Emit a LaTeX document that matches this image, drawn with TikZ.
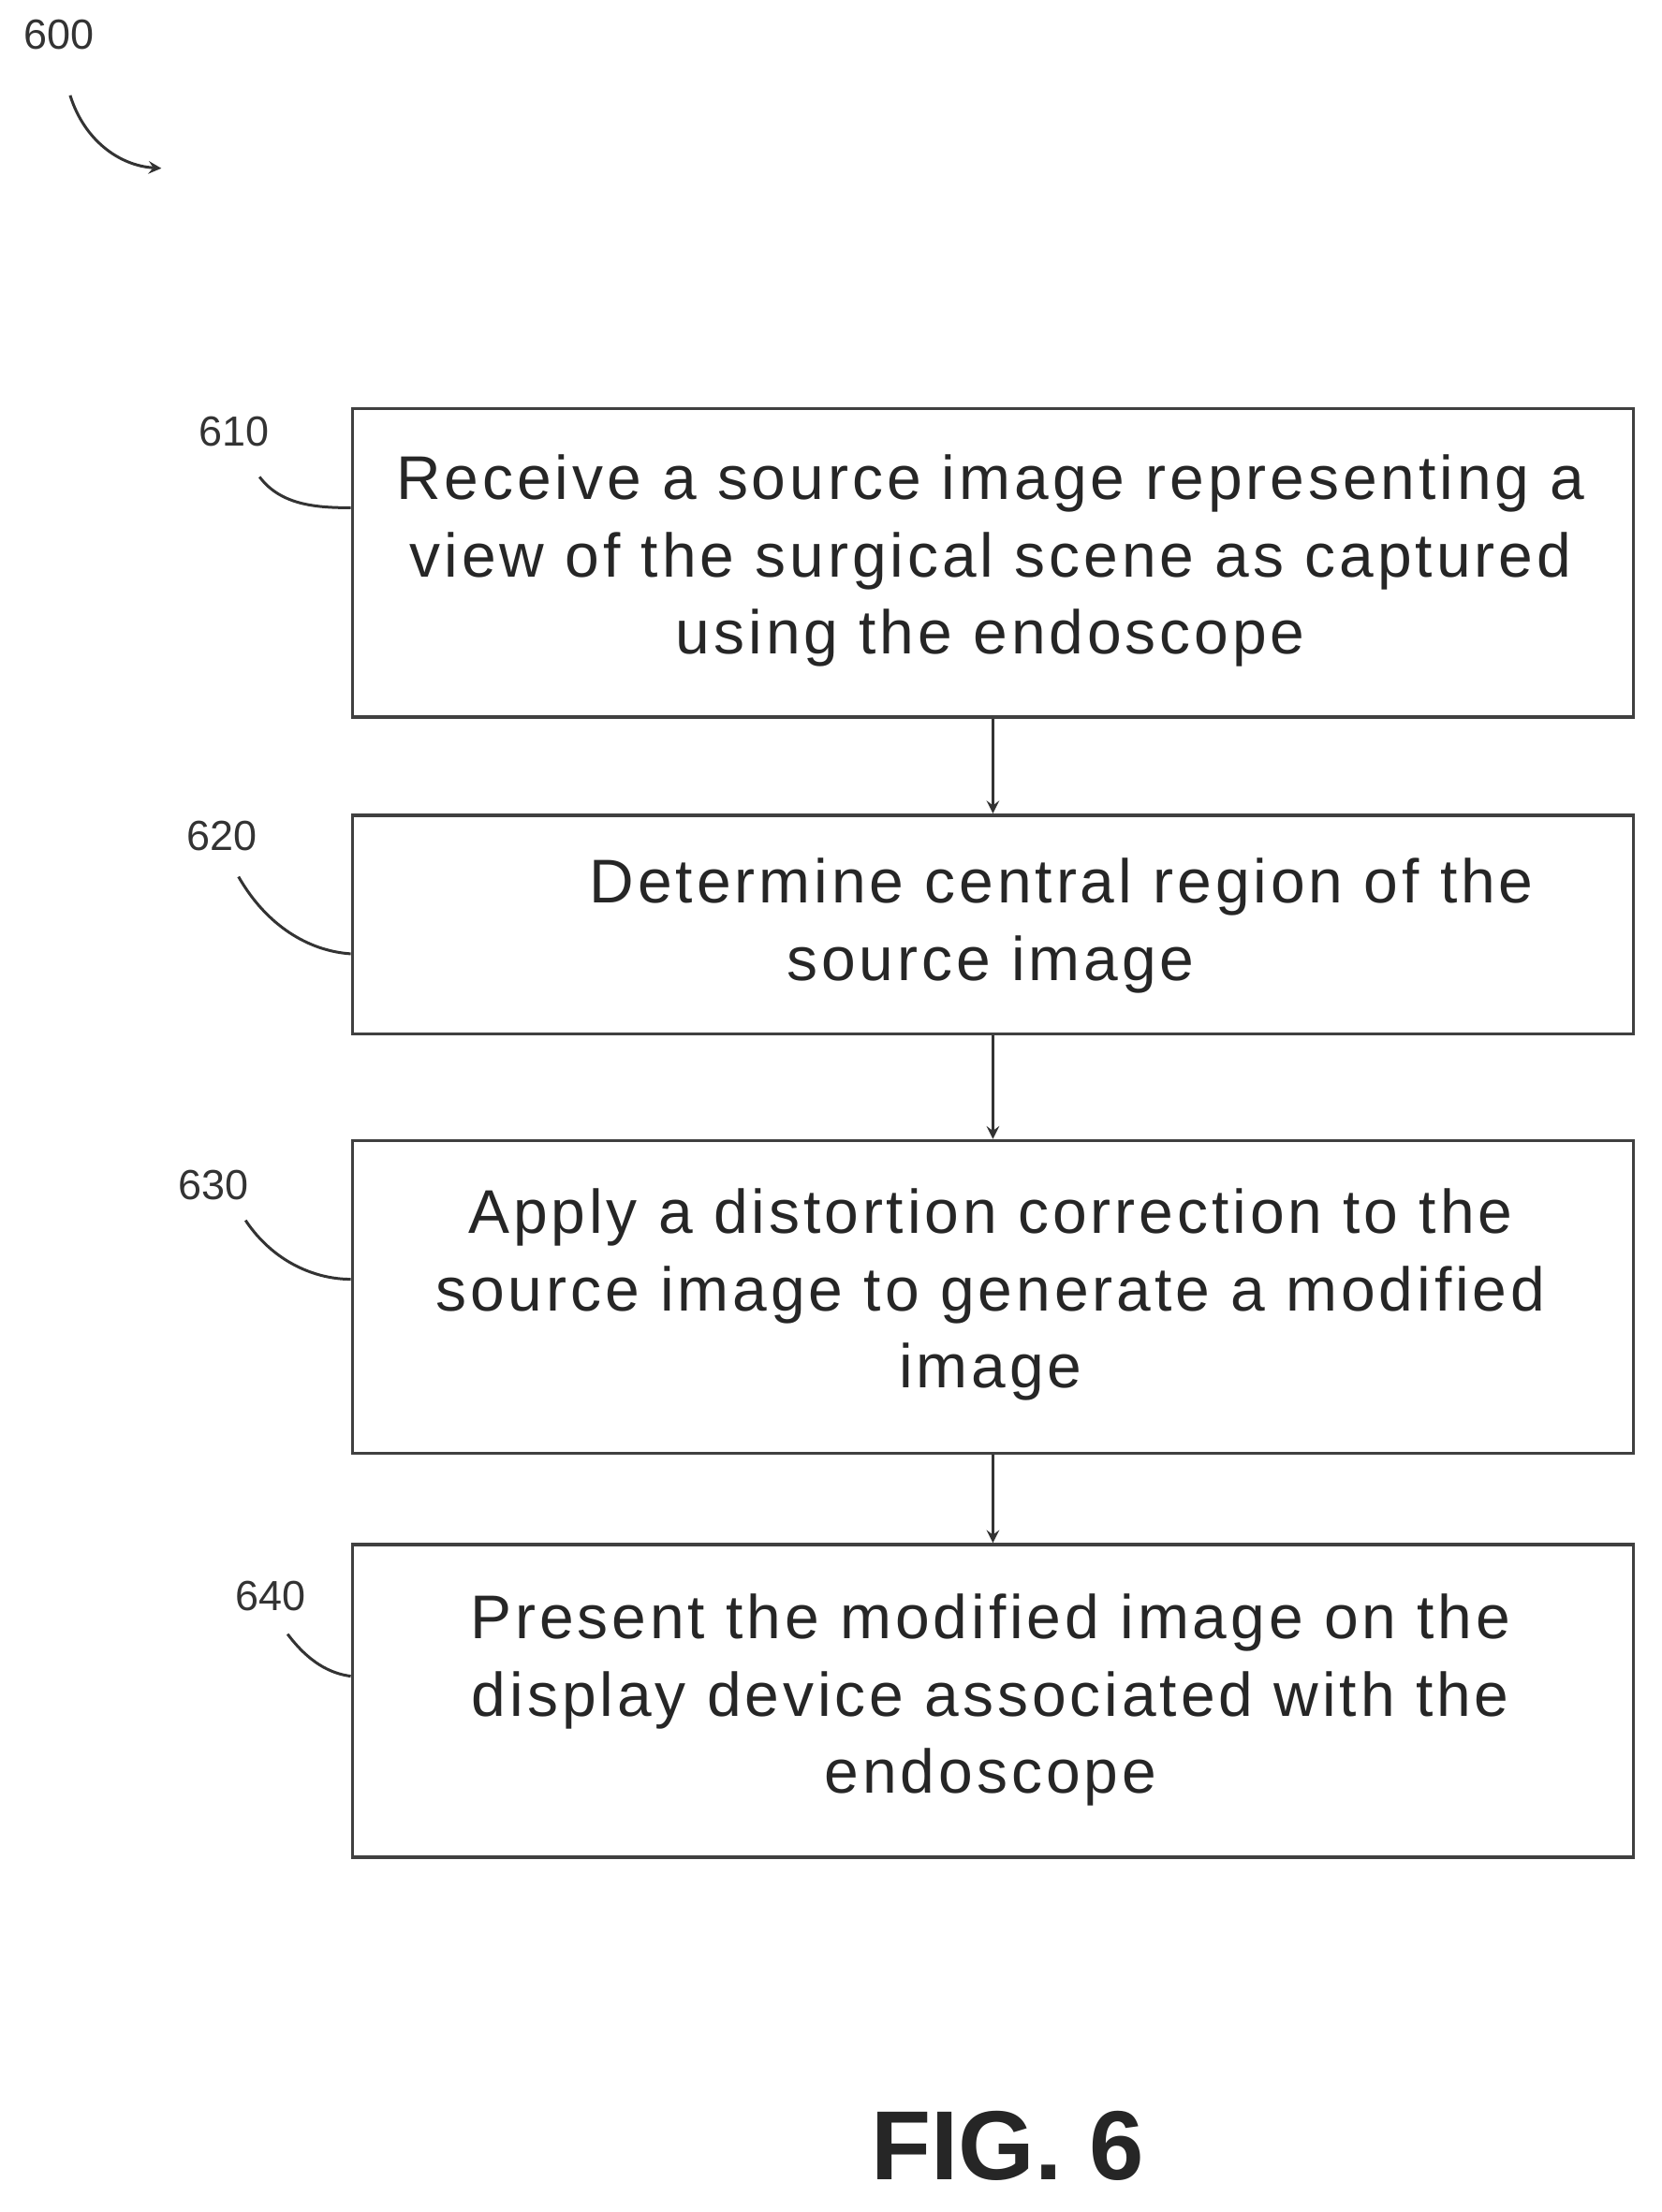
\documentclass[tikz,border=0pt]{standalone}
\usepackage{fontspec}
\setmainfont{Liberation Sans}
\newfontfamily\wide[LetterSpace=6]{Liberation Sans}
\begin{document}
\begin{tikzpicture}[x=0.5pt,y=-0.5pt,
 box/.style={draw=black!75,line width=1.2pt,inner sep=0pt},
 txt/.style={align=center,font=\wide\fontsize{22}{27.5}\selectfont,text=black!85},
 lab/.style={font=\fontsize{15}{18}\selectfont,text=black!80},
 lead/.style={draw=black!80,line width=1pt},
 arr/.style={draw=black!80,line width=1pt,->,>=stealth}]
\useasboundingbox (0,0) rectangle (1184,1577);
\node[box,minimum width=456.5pt,minimum height=110pt,anchor=north west] (b1) at (250,290) {};
\node[box,minimum width=456.5pt,minimum height=78pt,anchor=north west] (b2) at (250,580) {};
\node[box,minimum width=456.5pt,minimum height=111.5pt,anchor=north west] (b3) at (250,812) {};
\node[box,minimum width=456.5pt,minimum height=111.5pt,anchor=north west] (b4) at (250,1100) {};
\node[txt] (t1) at (706,400) {Receive a source image representing a\\view of the surgical scene as captured\\using the endoscope};
\node[txt] (t2) at (706,660) {\hspace*{2.3em}Determine central region of the\\source image};
\node[txt] (t3) at (706,923) {Apply a distortion correction to the\\source image to generate a modified\\image};
\node[txt] (t4) at (706,1212) {Present the modified image on the\\display device associated with the\\endoscope};
\draw[arr] (b1.south) -- (b2.north);
\draw[arr] (b2.south) -- (b3.north);
\draw[arr] (b3.south) -- (b4.north);
\node[lab] (l600) at (42,25) {600};
\node[lab] (l610) at (167,308) {610};
\node[lab] (l620) at (158,596) {620};
\node[lab] (l630) at (152,845) {630};
\node[lab] (l640) at (193,1138) {640};
\coordinate (e600) at (115,120);
\draw[arr] (50,68) .. controls (60,100) and (85,118) .. (e600);
\draw[lead] (185,340) .. controls (200,360) and (225,362) .. (b1.west |- 0,362);
\draw[lead] (170,625) .. controls (190,660) and (220,678) .. (b2.west |- 0,680);
\draw[lead] (175,870) .. controls (195,900) and (225,912) .. (b3.west |- 0,912);
\draw[lead] (205,1165) .. controls (220,1185) and (235,1193) .. (b4.west |- 0,1195);
\node[font=\fontsize{35}{40}\selectfont\bfseries,text=black!85] (fig) at (718,1530) {FIG. 6};
\end{tikzpicture}
\end{document}
